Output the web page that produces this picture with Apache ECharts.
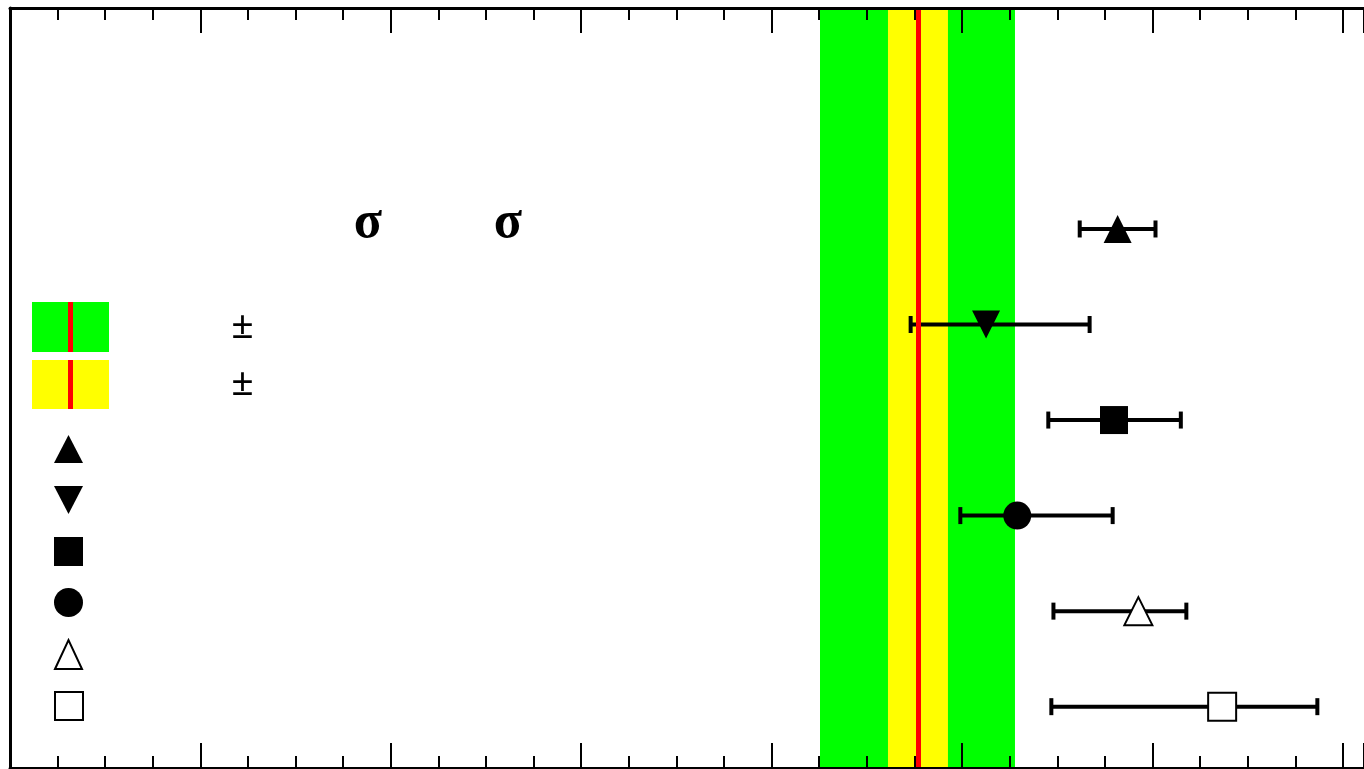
<!DOCTYPE html>
<html lang="en">
<head>
	<meta charset="UTF-8">
	<title>σ comparison</title>
	<style type="text/css">
		html, body { margin: 0; padding: 0; background: #fff; }
		#a {
			width: 1364px;
			height: 769px;
		}
	</style>
</head>
<body>
	<div id="a"></div>
	<script type="text/javascript" src="https://cdn.jsdelivr.net/npm/echarts@6/dist/echarts.min.js"></script>
	<script type="text/javascript">
		// measurements, top row first
		var rows = [5, 4, 3, 2, 1, 0];
		var centers = [5.817, 5.126, 5.798, 5.290, 5.926, 6.366];
		var lows = [5.618, 4.730, 5.453, 4.991, 5.480, 5.469];
		var highs = [6.016, 5.670, 6.149, 5.791, 6.178, 6.866];
		// reference value with its two bands
		var central = 4.766;
		var outerBand = [4.254, 5.278];
		var innerBand = [4.611, 4.926];

		// marker look for each row
		var symbols = ['triangle', 'triangle', 'rect', 'circle', 'triangle', 'rect'];
		var rotations = [0, 180, 0, 0, 0, 0];
		var hollow = [false, false, false, false, true, true];

		var myChart = echarts.init(document.getElementById('a'));

		var barData = [];
		var pointData = [];
		for (var i = 0; i < rows.length; i++) {
			barData.push([lows[i], highs[i], rows[i]]);
			pointData.push({
				value: [centers[i], rows[i]],
				symbol: symbols[i],
				symbolRotate: rotations[i],
				itemStyle: hollow[i]
					? { color: '#fff', borderColor: '#000', borderWidth: 2, opacity: 1 }
					: { color: '#000', borderWidth: 0, opacity: 1 }
			});
		}

		// the axis is cut off by the right edge of the picture
		function xAxisOpt(pos) {
			return {
				type: 'value',
				position: pos,
				min: 0,
				max: 7.111,
				interval: 1,
				z: 10,
				axisLine: { show: true, onZero: false, lineStyle: { color: '#000', width: 3 } },
				axisTick: { show: true, inside: true, length: 25, lineStyle: { color: '#000', width: 2 } },
				minorTick: { show: true, splitNumber: 4, length: 12, lineStyle: { color: '#000', width: 2 } },
				axisLabel: { show: false },
				splitLine: { show: false },
				minorSplitLine: { show: false }
			};
		}

		var black = { fill: '#000' };
		var sigmaFont = 'bold 52px "Liberation Serif"';
		var pmFont = 'bold 40px "Liberation Serif"';
		var option = {
			animation: false,
			grid: { left: 10, top: 8, right: 0, bottom: 1 },
			xAxis: [xAxisOpt('bottom'), xAxisOpt('top')],
			yAxis: {
				type: 'value',
				min: -0.642,
				max: 7.313,
				z: 10,
				axisLine: { show: true, onZero: false, lineStyle: { color: '#000', width: 3 } },
				axisTick: { show: false },
				axisLabel: { show: false },
				splitLine: { show: false }
			},
			series: [
				{
					// bands and central line
					type: 'line',
					data: [],
					silent: true,
					markArea: {
						silent: true,
						data: [
							[{ xAxis: outerBand[0], itemStyle: { color: '#00ff00', opacity: 1 } }, { xAxis: outerBand[1] }],
							[{ xAxis: innerBand[0], itemStyle: { color: '#ffff00', opacity: 1 } }, { xAxis: innerBand[1] }]
						]
					},
					markLine: {
						silent: true,
						symbol: ['none', 'none'],
						label: { show: false },
						lineStyle: { color: '#ff0000', width: 5, type: 'solid' },
						data: [{ xAxis: central }]
					}
				},
				{
					// horizontal error bars with caps
					type: 'custom',
					z: 3,
					data: barData,
					encode: { x: [0, 1], y: 2 },
					renderItem: function (params, api) {
						var y = api.value(2);
						var p1 = api.coord([api.value(0), y]);
						var p2 = api.coord([api.value(1), y]);
						var h = 8.5;
						var st = { stroke: '#000', lineWidth: 4 };
						return {
							type: 'group',
							children: [
								{ type: 'line', shape: { x1: p1[0], y1: p1[1], x2: p2[0], y2: p2[1] }, style: st },
								{ type: 'line', shape: { x1: p1[0], y1: p1[1] - h, x2: p1[0], y2: p1[1] + h }, style: st },
								{ type: 'line', shape: { x1: p2[0], y1: p2[1] - h, x2: p2[0], y2: p2[1] + h }, style: st }
							]
						};
					}
				},
				{
					type: 'scatter',
					z: 4,
					symbolSize: 28,
					itemStyle: { opacity: 1 },
					data: pointData
				}
			],
			graphic: [
				// legend swatches
				{ type: 'rect', shape: { x: 32, y: 302, width: 77, height: 50 }, style: { fill: '#00ff00' } },
				{ type: 'rect', shape: { x: 68, y: 302, width: 5, height: 50 }, style: { fill: '#ff0000' } },
				{ type: 'rect', shape: { x: 32, y: 360, width: 77, height: 49 }, style: { fill: '#ffff00' } },
				{ type: 'rect', shape: { x: 68, y: 360, width: 5, height: 49 }, style: { fill: '#ff0000' } },
				{ type: 'polygon', shape: { points: [[54, 463], [68.5, 435], [83, 463]] }, style: black },
				{ type: 'polygon', shape: { points: [[54, 486], [83, 486], [68.5, 514]] }, style: black },
				{ type: 'rect', shape: { x: 54, y: 537, width: 29, height: 29 }, style: black },
				{ type: 'circle', shape: { cx: 68.5, cy: 602.5, r: 14.5 }, style: black },
				{ type: 'polygon', shape: { points: [[55, 669], [68.5, 640], [82, 669]] }, style: { fill: '#fff', stroke: '#000', lineWidth: 2 } },
				{ type: 'rect', shape: { x: 55, y: 692, width: 28, height: 28 }, style: { fill: '#fff', stroke: '#000', lineWidth: 2 } },
				// texts
				{ type: 'text', x: 368, y: 224, style: { text: 'σ', font: sigmaFont, fill: '#000', align: 'center', verticalAlign: 'middle' } },
				{ type: 'text', x: 508, y: 224, style: { text: 'σ', font: sigmaFont, fill: '#000', align: 'center', verticalAlign: 'middle' } },
				{ type: 'text', x: 242.5, y: 328, style: { text: '±', font: pmFont, fill: '#000', align: 'center', verticalAlign: 'middle' } },
				{ type: 'text', x: 242.5, y: 385, style: { text: '±', font: pmFont, fill: '#000', align: 'center', verticalAlign: 'middle' } }
			]
		};
		myChart.setOption(option);
	</script>
</body>
</html>
